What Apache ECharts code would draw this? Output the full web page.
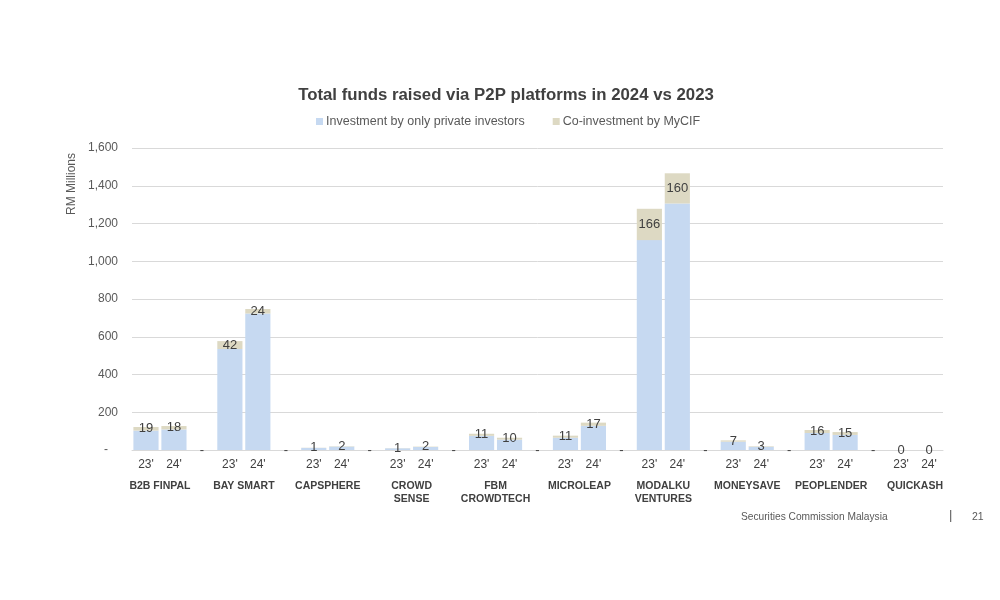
<!DOCTYPE html>
<html>
<head>
<meta charset="utf-8">
<script src="https://cdn.jsdelivr.net/npm/echarts@6/dist/echarts.min.js"></script>
<style>html,body{margin:0;padding:0;background:#fff;}#c{width:1000px;height:600px;}</style>
</head>
<body>
<div id="c"></div>
<script>
// Platforms and values (RM millions)
var platforms = ['B2B FINPAL','BAY SMART','CAPSPHERE','CROWD\nSENSE','FBM\nCROWDTECH','MICROLEAP','MODALKU\nVENTURES','MONEYSAVE','PEOPLENDER','QUICKASH'];
var years = ["23'", "24'"];
var private23 = [103, 535, 11, 9, 75, 65, 1112, 44, 90, 0];
var private24 = [109, 723, 18, 16, 55, 128, 1306, 17, 80, 0];
var mycif23 = [19, 42, 1, 1, 11, 11, 166, 7, 16, 0];
var mycif24 = [18, 24, 2, 2, 10, 17, 160, 3, 15, 0];
var yTicks = [0, 200, 400, 600, 800, 1000, 1200, 1400, 1600];

// Build slot-level data: 23', 24', gap for each platform (no trailing gap)
var cats = [], privData = [], cifData = [], isGap = [];
platforms.forEach(function (p, i) {
  cats.push(years[0]); privData.push(private23[i]); cifData.push(mycif23[i]); isGap.push(false);
  cats.push(years[1]); privData.push(private24[i]); cifData.push(mycif24[i]); isGap.push(false);
  if (i < platforms.length - 1) {
    cats.push(''); privData.push(0); cifData.push(0); isGap.push(true);
  }
});
var nSlots = cats.length;

var chart = echarts.init(document.getElementById('c'));
var font = 'Liberation Sans, Arial, sans-serif';
chart.setOption({
  backgroundColor: '#fff',
  animation: false,
  textStyle: { fontFamily: font },
  title: {
    text: 'Total funds raised via P2P platforms in 2024 vs 2023',
    left: 501, top: 82, textAlign: 'center',
    textStyle: { fontSize: 16.8, fontWeight: 'bold', color: '#404040', fontFamily: font }
  },
  legend: {
    top: 110, left: 311, itemWidth: 7, itemHeight: 7, itemGap: 28,
    icon: 'rect',
    textStyle: { fontSize: 12.5, color: '#595959', fontFamily: font, padding: [0, 0, 0, -2] },
    data: ['Investment by only private investors', 'Co-investment by MyCIF']
  },
  grid: { left: 132, right: 57, top: 148, bottom: 150, containLabel: false },
  xAxis: [{
    type: 'category', data: cats,
    axisLine: { lineStyle: { color: '#d9d9d9' } },
    axisTick: { show: false },
    axisLabel: { interval: 0, fontSize: 12, color: '#404040', margin: 9, fontFamily: font }
  }, {
    type: 'value', min: 0, max: nSlots, interval: 1, position: 'bottom',
    axisLine: { show: false }, axisTick: { show: false }, splitLine: { show: false },
    axisLabel: {
      show: true, margin: 30, fontSize: 10.5, fontWeight: 'bold', color: '#404040',
      lineHeight: 13, verticalAlign: 'top', fontFamily: font,
      showMinLabel: true, showMaxLabel: true,
      formatter: function (v) {
        if ((v - 1) % 3 === 0) { var k = (v - 1) / 3; return platforms[k] || ''; }
        return '';
      }
    }
  }],
  yAxis: {
    type: 'value', min: 0, max: 1600, interval: 200,
    axisLine: { show: false }, axisTick: { show: false },
    splitLine: { lineStyle: { color: '#d9d9d9' } },
    axisLabel: {
      fontSize: 12, color: '#595959', margin: 14, fontFamily: font,
      formatter: function (v) {
        if (yTicks.indexOf(v) < 0) return '';
        if (v === 0) return '-   ';
        return v.toString().replace(/\B(?=(\d{3})+(?!\d))/g, ',');
      }
    }
  },
  graphic: [
    { type: 'text', left: 66, top: 153, rotation: Math.PI / 2,
      style: { text: 'RM Millions', fill: '#595959', font: '12px ' + font } },
    { type: 'text', left: 741, top: 512,
      style: { text: 'Securities Commission Malaysia', fill: '#595959', font: '10.2px ' + font } },
    { type: 'text', left: 949, top: 509,
      style: { text: '|', fill: '#595959', font: '13px ' + font } },
    { type: 'text', left: 972, top: 512,
      style: { text: '21', fill: '#595959', font: '10.5px ' + font } }
  ],
  series: [{
    name: 'Investment by only private investors', type: 'bar', stack: 'a',
    data: privData, barCategoryGap: '10%',
    itemStyle: { color: '#C6D9F1' }
  }, {
    name: 'Co-investment by MyCIF', type: 'bar', stack: 'a',
    data: cifData, barCategoryGap: '10%',
    itemStyle: { color: '#DDD9C3' },
    label: {
      show: true, position: 'inside', fontSize: 13, color: '#404040', fontFamily: font,
      formatter: function (p) { return isGap[p.dataIndex] ? '-' : String(p.value); }
    }
  }]
});
</script>
</body>
</html>
